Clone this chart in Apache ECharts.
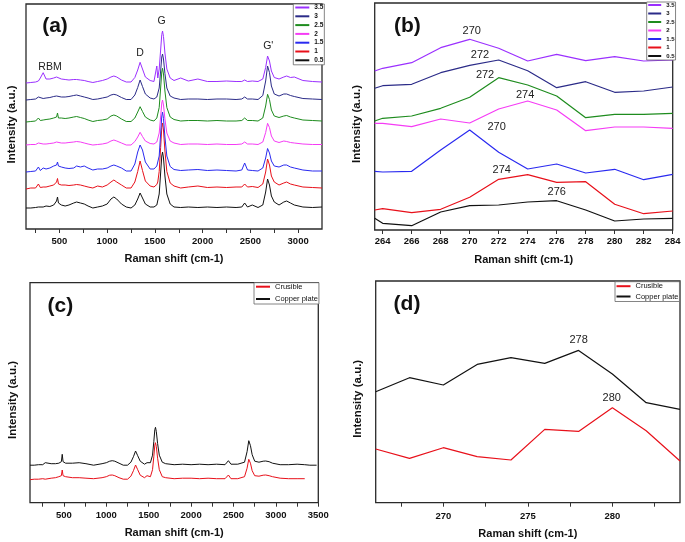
<!DOCTYPE html>
<html>
<head>
<meta charset="utf-8">
<script src="https://cdn.jsdelivr.net/npm/echarts@6/dist/echarts.min.js"></script>
<style>
html,body{margin:0;padding:0;background:#fff;}
#chart{width:685px;height:542px;}
</style>
</head>
<body>
<div id="chart"></div>
<script>
// ---------- Panel (a): full Raman spectra, offset stacked ----------
const ramanA = [150,200,250,280,300,330,360,400,440,470,
  480,490,520,560,600,650,680,720,760,800,
  850,900,950,1000,1040,1070,1100,1150,1200,1250,
  1290,1320,1345,1370,1400,1450,1490,1520,1530,1545,
  1560,1572,1580,1590,1605,1625,1660,1700,1770,1850,
  1950,2050,2150,2250,2350,2410,2440,2470,2520,2580,
  2630,2660,2680,2700,2720,2750,2800,2850,2880,2920,
  2960,3050,3150,3250];
const a05 = [21,21,21.5,22,22.5,22,23,22.5,24,28,
  32,26,24,23,24,26,27,26,25,23,
  21,22,23,25,30,32,30,25,22,21,
  24,30,36,31,25,22,22,24,26,35,
  56,73,77,71,53,35,25,22,21.5,22,
  21.5,22,21.5,22,21.5,22,26,22,24,21.5,
  24,37,50,44,33,27,24,27,28,26,
  24,22,21.5,22];
const a1 = [40,41,41,45,41.5,42,42,43,44,47,
  50.5,45,44,44,43.5,44,44.5,44,43,42,
  41,43,42,44,47,49,47,44,41,41,
  47,57.5,68,58.5,48,43,42,44.5,47,57.5,
  81.5,101.5,106,99,78,57.5,46,43,41,42,
  43,41.5,42,41.5,42,42,45,42,42.5,41.5,
  45,57,70,64,53,47,44,46,47,45,
  44,42,41.5,41];
const a15 = [57,57.5,58,62,58.5,61,60,61,63,64,
  67,63,62,61,60.5,61,63,62,63,61,
  59,60,60,61,63,64,63,61,58,58,
  65,77,84,79,67,60,60,63,64,73,
  95,113,117,110.5,92,73,62.5,59.5,58.5,59,
  59.5,58.5,59,58.5,58,59,66,59,58.5,58,
  61,71,80.5,76,68,63,62,64,64,62,
  61,59,58,58];
const a2 = [84,84.5,84.5,86,84.5,85,85,85.5,86,87,
  89,86,86,86,86.5,87,87.5,87,86,85,
  84,84.5,85,86,88,89,88,86,84,84,
  87.5,92,96.7,92.5,88,85.5,85,87,89,96,
  112,126,129,124,110,96,88,86,84.5,85,
  85,84.5,85,84.5,84.5,85,87,85,85,84.5,
  87,96.5,105.7,101.5,93,88,86.5,88,87.5,86.5,
  86,85,84.5,84.5];
const a25 = [107,107.5,108,111,108.5,109,109.5,110,111,112,
  116,111,111,110.5,111,112,112.5,111.5,110.5,109,
  107.5,108.5,109,110,113,114,113,110,107.5,107.5,
  111,117,122.3,117.5,112,109,108,111,113,121.5,
  141,157,160.7,155,138,121.5,112,109.5,108,108.5,
  108.5,108,108.5,108,108,108.5,111,108.5,108.5,108,
  111,123,134.7,129.5,119,113,111.5,113,113.5,112,
  111,109,108.5,108];
const a3 = [129,129.5,130,132,130,130.5,131,131.5,132.5,133,
  135,132.5,132,132,132.5,133.5,134,133,132,131,
  129.5,130,131,132,134,134.7,134,131.5,129.5,129.5,
  134,141.5,149,142.5,135,131,130,132,134,141,
  158,172,175,170,155.5,141,133,131,129.5,130,
  130,129.5,130,130,129.5,130,132,130,130,129.5,
  133.5,148,163,156.5,143,135,133,135,135,133.5,
  132.5,130.5,130,129.5];
const a35 = [146,146.5,147,148,151,156.3,150,150,151,152,
  154,151.5,150,149.5,149,149.5,149.5,149,148.5,147.5,
  146.5,147.5,148.5,150,152,153,152,149,147,147,
  151.5,159,166.7,160,152,148.5,147.5,163,151,160,
  179,194.5,198,192.5,176,160,151,148.5,151,148,
  150,147.5,147.5,148,147.5,147.5,149,147.5,148,147.5,
  150,161.5,173,168,158,151.5,150,152,153,151.5,
  152,148.5,147.5,147];
const annotA = [['RBM',401,162],['D',1344,176],['G',1571,208.3],["G'",2687,183]];

// ---------- Panel (b): RBM region ----------
const ramanB = [263.45,264,266,268,270,272,274,276,278,280,282,284];
const b35 = [159,161.7,167.3,182.3,190.7,181.7,169,175.7,169.3,173.3,169,170];
const b3  = [141.7,144.3,145.7,157.3,164.7,170,159.3,142.3,148.3,137.7,139,143];
const b25 = [109,111.7,114,121.7,132.7,152.3,145,134,112.3,115.7,115.7,116.7];
const b2  = [106.7,106.7,103.3,111,107,121,129,120,99.3,103,103,101.7];
const b15 = [58.7,58,58.7,80,100,77.7,61,66,57,60.7,50.3,55.7];
const b1  = [20,21.3,17.3,20.7,32.7,50.7,55.3,47.7,48.3,25.7,16.3,19];
const b05 = [11.7,6.7,4.3,18,24.3,25,28,29.3,20,9,11,11.7];
const annotB = {'3.5':['270',270.14,199.3],'3':['272',270.71,175],'2.5':['272',271.06,155],
  '2':['274',273.82,135],'1.5':['270',271.86,103],'1':['274',272.21,60],'0.5':['276',276.0,38]};

// ---------- Panel (c): crucible vs copper plate ----------
const ramanC = [100,150,200,250,280,300,350,400,440,470,
  480,490,520,600,680,760,850,950,1000,1040,
  1070,1100,1150,1200,1250,1290,1320,1345,1370,1400,
  1450,1480,1520,1545,1560,1572,1580,1590,1605,1625,
  1660,1700,1800,1900,2000,2100,2200,2300,2400,2440,
  2470,2550,2630,2660,2680,2700,2720,2750,2800,2850,
  2880,2920,2960,3050,3150,3250,3340,3400,3480];
const cCopper = [37.5,37.5,38,38,40,38.5,39,39,39.5,41,
  48.4,41,39.5,39.5,40,39,37.5,39,40,41.5,
  42,41.5,39.5,37.5,37.5,40.5,46,51.7,47,41.5,
  38.5,40,40,47.5,61,73,75.4,71,59,47.5,
  40.5,39,38,38.5,38,38.5,38,38.5,38,42,
  38.5,38.5,40.5,51,62,57,48,41.5,40.5,41.5,
  41.7,41,39.5,38,38,38.5,38,37.5,37.5];
const cCrucible = [23,23.5,23.5,24,23.5,24,24.5,25,26,27,
  32.7,27,26,25,25,24.5,24,25,26,27.5,
  27.7,27,25,23.5,23.5,26.5,32,37.7,33,27.5,
  25,27,26,33,46,57.5,60,56,44.5,33,
  26,25,24,24.5,24.5,24,24.5,24,24,27.7,
  24,24,26,34.5,43.4,39.5,32,27,26.5,27.5,
  27.7,27,26,24.5,24,24,24,null,null];

// ---------- Panel (d): RBM region, crucible vs copper ----------
const ramanD = [266,268,270,272,274,276,278,280,282,284];
const dCopper = [111,125,117.7,138.3,145,139.3,152.3,128.7,100,93.3];
const dCrucible = [53.7,44.3,55,46,42.7,73.3,71.3,95,72,41.7];
const annotD = {'Copper plate':['278',278.0,162.7],'Crusible':['280',279.96,104.3]};

// tick / label values
const ticksA = [250,500,750,1000,1250,1500,1750,2000,2250,2500,2750,3000];
const labelsA = [500,1000,1500,2000,2500,3000];
const ticksB = [264,266,268,270,272,274,276,278,280,282,284];
const ticksC = [250,500,750,1000,1250,1500,1750,2000,2250,2500,2750,3000,3250,3500];
const labelsC = [500,1000,1500,2000,2500,3000,3500];
const ticksD = [267.5,270,272.5,275,277.5,280,282.5];
const labelsD = [270,275,280];

const FONT = "'Liberation Sans', Arial, sans-serif";
const colors = {'3.5':'#9b30ff','3':'#2b2b88','2.5':'#1e8c1e','2':'#f53cf5','1.5':'#2a2af0','1':'#e8101a','0.5':'#111111',
  'Crusible':'#e8101a','Copper plate':'#111111'};
const legendOrder = ['3.5','3','2.5','2','1.5','1','0.5'];

const pair = (xs, ys) => xs.map((x,i)=>[x, ys[i]]);

const grids = [
  {left:26, top:4, width:296, height:225},
  {left:374.7, top:3, width:298, height:227},
  {left:30, top:282.7, width:288.3, height:220},
  {left:375.7, top:281, width:304.3, height:221.7}
].map(g => Object.assign(g, {show:true, borderColor:'#2a2a2a', borderWidth:1.3, backgroundColor:'#fff'}));

function xAx(gi, min, max, ticks, labels, margin, gap){
  return {type:'value', gridIndex:gi, min:min, max:max,
    name:'Raman shift (cm-1)', nameLocation:'middle', nameGap:gap,
    nameTextStyle:{fontFamily:FONT, fontWeight:'bold', fontSize:11, color:'#111'},
    axisLine:{show:false}, splitLine:{show:false},
    axisTick:{show:true, inside:false, length:4, customValues:ticks, lineStyle:{color:'#333', width:1}},
    axisLabel:{show:true, customValues:labels, margin:margin, formatter:v=>String(v),
      fontFamily:FONT, fontWeight:'bold', fontSize:9.5, color:'#111'}};
}
function yAx(gi, max){
  return {type:'value', gridIndex:gi, min:0, max:max, axisLine:{show:false}, axisTick:{show:false},
    axisLabel:{show:false}, splitLine:{show:false}};
}

const series = [];
const aData = {'0.5':a05,'1':a1,'1.5':a15,'2':a2,'2.5':a25,'3':a3,'3.5':a35};
['0.5','1','1.5','2','2.5','3','3.5'].forEach(n=>{
  series.push({name:n, type:'line', xAxisIndex:0, yAxisIndex:0, data:pair(ramanA, aData[n]),
    symbol:'none', lineStyle:{width:1, color:colors[n]}, itemStyle:{color:colors[n]}, z:2});
});
series[series.length-1].markPoint = {symbol:'circle', symbolSize:1, itemStyle:{color:'rgba(0,0,0,0)'},
  label:{show:true, position:'inside', color:'#222', fontFamily:FONT, fontSize:10.5, formatter:p=>p.name},
  data: annotA.map(a=>({name:a[0], coord:[a[1],a[2]]}))};

const bData = {'0.5':b05,'1':b1,'1.5':b15,'2':b2,'2.5':b25,'3':b3,'3.5':b35};
['0.5','1','1.5','2','2.5','3','3.5'].forEach(n=>{
  const an = annotB[n];
  series.push({name:n, type:'line', xAxisIndex:1, yAxisIndex:1, data:pair(ramanB, bData[n]),
    symbol:'none', lineStyle:{width:1.2, color:colors[n]}, itemStyle:{color:colors[n]}, z:2,
    markPoint:{symbol:'circle', symbolSize:1, itemStyle:{color:'rgba(0,0,0,0)'},
      label:{show:true, position:'inside', color:'#222', fontFamily:FONT, fontSize:11, formatter:p=>p.name},
      data:[{name:an[0], coord:[an[1], an[2]]}]}});
});

series.push({name:'Copper plate', type:'line', xAxisIndex:2, yAxisIndex:2, data:pair(ramanC, cCopper),
  symbol:'none', lineStyle:{width:1, color:colors['Copper plate']}, itemStyle:{color:colors['Copper plate']}});
series.push({name:'Crusible', type:'line', xAxisIndex:2, yAxisIndex:2, data:pair(ramanC, cCrucible),
  symbol:'none', lineStyle:{width:1, color:colors['Crusible']}, itemStyle:{color:colors['Crusible']}});

[['Copper plate', dCopper], ['Crusible', dCrucible]].forEach(([n, arr])=>{
  const an = annotD[n];
  series.push({name:n, type:'line', xAxisIndex:3, yAxisIndex:3, data:pair(ramanD, arr),
    symbol:'none', lineStyle:{width:1.2, color:colors[n]}, itemStyle:{color:colors[n]},
    markPoint:{symbol:'circle', symbolSize:1, itemStyle:{color:'rgba(0,0,0,0)'},
      label:{show:true, position:'inside', color:'#222', fontFamily:FONT, fontSize:11, formatter:p=>p.name},
      data:[{name:an[0], coord:[an[1], an[2]]}]}});
});

function legendCfg(data, left, top, itemWidth, fontSize, lineHeight, gap, padding, bold){
  return {data:data, orient:'vertical', left:left, top:top, itemWidth:itemWidth, itemHeight:2, itemGap:gap,
    icon:'rect', padding:padding, borderColor:'#666', borderWidth:0.8, backgroundColor:'#fff',
    selectedMode:false, z:10,
    textStyle:{fontFamily:FONT, fontSize:fontSize, lineHeight:lineHeight, fontWeight:bold?'bold':'normal', color:'#111'}};
}

const textG = (txt, x, y, size, bold, rot) => ({type:'text', x:x, y:y, rotation:rot||0, z:20,
  style:{text:txt, fontFamily:FONT, fontSize:size, fontWeight:bold?'bold':'normal', fill:'#111',
    textAlign:'center', textVerticalAlign:'middle'}});

const option = {
  animation:false,
  backgroundColor:'#fff',
  grid:grids,
  xAxis:[xAx(0,150,3250,ticksA,labelsA,7,24.5), xAx(1,263.45,284,ticksB,ticksB,6.3,24.5),
         xAx(2,100,3500,ticksC,labelsC,7.3,25), xAx(3,266,284,ticksD,labelsD,8.6,26)],
  yAxis:[yAx(0,225), yAx(1,227), yAx(2,220), yAx(3,221.7)],
  legend:[
    legendCfg(legendOrder, 293.3, 4, 14, 6.5, 6, 1.8, [0,1,1,2], true),
    legendCfg(legendOrder, 646.7, 2, 13, 6, 5.5, 2.5, [0,1,1,1.5], true),
    legendCfg(['Crusible','Copper plate'], 254, 282.7, 14, 7.5, 7, 4.3, [0,1,1,2], false),
    legendCfg(['Crusible','Copper plate'], 615, 281.7, 14, 7.5, 7, 2.3, [0.5,1,1,1.5], false)
  ],
  graphic:[
    textG('(a)', 55, 26.3, 21, true),
    textG('(b)', 407.3, 26, 21, true),
    textG('(c)', 60.3, 305.8, 21, true),
    textG('(d)', 407, 304, 21, true),
    textG('Intensity (a.u.)', 12, 124.5, 11.5, true, Math.PI/2),
    textG('Intensity (a.u.)', 357, 124, 11.5, true, Math.PI/2),
    textG('Intensity (a.u.)', 12.5, 400, 11.5, true, Math.PI/2),
    textG('Intensity (a.u.)', 357.5, 398.8, 11.5, true, Math.PI/2)
  ],
  series:series
};

const chart = echarts.init(document.getElementById('chart'), null, {renderer:'canvas'});
chart.setOption(option);
</script>
</body>
</html>
